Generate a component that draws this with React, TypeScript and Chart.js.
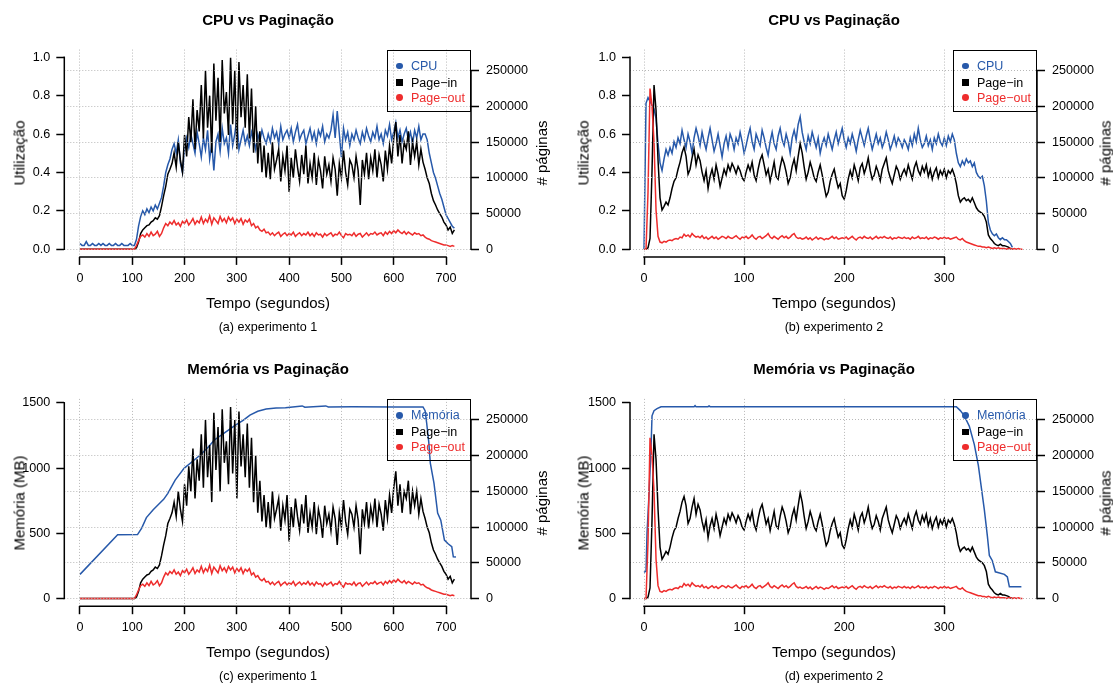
import React, { useEffect, useRef } from "react";
import { Chart, registerables } from "chart.js";

Chart.register(...registerables);

const FONT = '"Liberation Sans", Arial, Helvetica, sans-serif';
const BLUE = "#2759aa";
const RED = "#ee2c2c";
const BLACK = "#000000";
const GRID = "#b8b8b8";

// ---------------- Experiment 1 (one sample every 4 s, t = 0..716) ----------------
const exp1Step = 4;
const exp1CpuPct = [
  3, 2, 2, 4, 2, 2, 3, 2, 2, 3,
  2, 3, 2, 2, 3, 2, 2, 3, 2, 2,
  3, 2, 2, 2, 3, 2, 2, 5, 12, 17,
  20, 18, 21, 19, 22, 20, 23, 21, 24, 27,
  33, 40, 44, 47, 52, 55, 50, 57, 45, 40,
  52, 58, 53, 60, 55, 50, 61, 55, 48, 58,
  52, 62, 47, 55, 41, 56, 60, 51, 63, 55,
  58, 50, 65, 54, 60, 68, 52, 57, 62, 55,
  59, 54, 61, 57, 52, 60, 56, 62, 58, 55,
  60, 56, 63, 58, 61, 55, 64, 57, 60, 62,
  58, 63, 56, 61, 65, 57, 60, 62, 55, 59,
  63, 57, 61, 55, 62, 59, 64, 56, 60, 58,
  62, 70, 58, 72, 60, 48, 63, 57, 61, 54,
  60, 57, 62, 58, 55, 61, 57, 63, 59, 56,
  61, 58, 64, 57, 60, 55, 62, 59, 65, 57,
  61, 66, 58, 62, 56, 60, 63, 57, 61, 55,
  62, 58, 64, 57, 60, 60, 57, 50, 45, 40,
  37, 33, 29, 26, 22, 18, 16, 14, 12, 11,
];
const exp1PageInK = [
  0, 0, 0, 0, 0, 0, 0, 0, 0, 0,
  0, 0, 0, 0, 0, 0, 0, 0, 0, 0,
  0, 0, 0, 0, 0, 0, 0, 2, 10, 22,
  27, 30, 33, 34, 38, 40, 44, 42, 47, 60,
  75, 88, 105, 112, 120, 135, 115, 150, 125, 108,
  160, 130, 185, 150, 210, 140, 195, 165, 230, 155,
  250, 170, 215, 135, 260, 180, 240, 150, 265, 190,
  220, 160, 268, 175, 250, 140, 262, 185, 230, 170,
  245, 155, 225, 135, 200, 120, 165, 108, 145, 100,
  135, 98, 150, 112, 125, 140, 95, 130, 110, 145,
  80, 128, 100, 140, 115, 95, 132, 105, 145, 92,
  120, 100, 135, 90, 125, 110, 85, 130, 105, 118,
  95, 128, 112, 75, 120, 100, 138, 108, 90, 125,
  118, 100, 130, 110, 62, 125, 105, 135, 98, 128,
  110, 140, 100, 132, 118, 95, 138, 112, 145, 120,
  155, 178, 130, 160, 120, 150, 140, 165, 118, 150,
  130, 150, 118, 140, 122, 112, 100, 92, 78, 68,
  62, 55, 50, 45, 38, 34, 27, 31, 22, 27,
];
const exp1PageOutK = [
  0, 0, 0, 0, 0, 0, 0, 0, 0, 0,
  0, 0, 0, 0, 0, 0, 0, 0, 0, 0,
  0, 0, 0, 0, 0, 0, 0, 5, 12, 18,
  20, 17, 22, 18, 24, 19, 21, 25, 18, 22,
  30, 36, 33, 38, 35, 40, 34, 37, 32, 39,
  36, 41, 34, 38, 43, 35, 40, 37, 45, 36,
  42, 38, 47, 35, 44, 40, 36, 46, 39, 43,
  37, 45, 40, 44, 36, 42, 38, 43, 35, 41,
  38, 42, 33, 36, 30, 32, 27, 25, 28, 23,
  24, 20, 23, 19, 22, 24, 18, 21, 23, 19,
  22, 20, 24, 18, 21, 23, 19, 22, 20, 24,
  19, 22, 18, 23, 20, 21, 17, 22, 19, 21,
  23, 18, 21, 20, 24, 19, 16, 22, 20, 21,
  19, 23, 18, 21, 22, 17, 20, 23, 19, 22,
  21, 24, 20, 22, 23, 19, 24, 21, 25, 22,
  26, 23, 27, 24, 22, 25, 21, 24, 22, 20,
  23, 21, 22, 19, 20, 17, 15, 14, 12, 11,
  10, 9, 8, 7, 6, 6, 5, 4, 5, 4,
];
const exp1MemTime = [
  0, 72, 110, 118, 127, 140, 150, 160, 168, 182, 199, 215, 230, 245, 257, 275,
  298, 312, 325, 340, 356, 375, 393, 425, 430, 470, 475, 520, 600, 656, 660,
  663, 667, 670, 674, 677, 684, 690, 697, 704, 711, 714, 719,
];
const exp1MemMB = [
  185, 488, 490, 540, 620, 680, 720, 760, 806, 908, 998, 1050, 1100, 1160, 1215, 1265,
  1330, 1365, 1406, 1435, 1452, 1460, 1462, 1476, 1466, 1476, 1468, 1470, 1468, 1468, 1440,
  1345, 1200, 1038, 950, 885, 655, 600, 448, 420, 397, 320, 318,
];

// ---------------- Experiment 2 (one sample every 2 s, t = 0..378) ----------------
const exp2Step = 2;
const exp2CpuPct = [
  0, 76, 79, 77, 75, 73, 68, 55, 45, 41,
  47, 52, 49, 53, 50, 56, 53, 58, 55, 62,
  57, 53, 60, 56, 50, 58, 63, 59, 54, 61,
  56, 52, 58, 63, 57, 51, 55, 60, 54, 48,
  55, 59, 53, 60, 57, 52, 58, 55, 61, 56,
  50, 54, 59, 63, 56, 52, 60, 57, 54, 62,
  58, 53, 49, 56, 61, 55, 52, 59, 63, 57,
  54, 60, 56, 50, 58, 62, 57, 65, 69, 61,
  56, 52, 59, 55, 61, 57, 53, 58, 50, 55,
  58, 54, 60, 56, 52, 57, 61, 55, 59, 63,
  57, 53, 58, 55, 60, 56, 51, 57, 62, 58,
  54, 59, 63, 57, 52, 56, 60, 55, 58, 53,
  56, 61, 57, 52, 55, 59, 54, 58, 56, 53,
  57, 55, 52, 58, 54, 60, 56, 63, 57, 53,
  55, 59, 54, 57, 52, 58, 55, 60, 56, 54,
  58, 54, 59, 56, 60, 57, 50, 45, 43, 46,
  44, 47, 45, 46, 43, 45, 40, 38, 37, 38,
  33, 25, 14, 10, 8, 7, 8, 6, 5, 6,
  5, 5, 4, 3, 1, null, null, null, null, null,
];
const exp2PageInK = [
  0, 0, 2, 15, 110, 230, 195, 125, 72, 55,
  60, 66, 62, 72, 85, 95, 100, 112, 122, 135,
  143, 130, 105, 112, 128, 140, 118, 132, 124, 108,
  96, 110, 85, 102, 112, 98, 118, 105, 88, 100,
  112, 104, 118, 110, 120, 114, 106, 116, 110, 100,
  96, 108, 118, 110, 122, 104, 96, 112, 125, 132,
  118, 104, 112, 95, 108, 122, 102, 98, 115, 128,
  120, 108, 92, 100, 116, 126, 110, 130, 148, 135,
  115, 98, 108, 122, 112, 100, 95, 108, 118, 104,
  88, 74, 80, 95, 105, 112, 98, 86, 92, 75,
  70, 82, 98, 110, 100, 118, 108, 96, 114, 120,
  106, 115, 128, 110, 98, 104, 116, 108, 96, 112,
  120, 128, 110, 100, 92, 104, 116, 110, 98, 106,
  112, 104, 118, 108, 98, 114, 122, 110, 104, 116,
  108, 118, 102, 112, 98, 108, 114, 100, 110, 104,
  112, 100, 110, 106, 112, 104, 92, 75, 66, 70,
  72, 68, 70, 66, 72, 65, 58, 54, 52, 50,
  46, 38, 20, 15, 12, 8, 6, 5, 7, 5,
  5, 4, 3, 1, 0, null, null, null, null, null,
];
const exp2PageOutK = [
  0, 0, 80, 225, 200, 150, 55, 18, 10, 9,
  11, 10, 12, 13, 12, 14, 15, 14, 17, 16,
  21, 18, 20, 17, 22, 19, 17, 18, 16, 19,
  15, 17, 14, 16, 18, 15, 17, 14, 16, 18,
  17, 15, 18, 16, 15, 17, 19, 16, 14, 17,
  16, 18, 15, 17, 20, 16, 14, 17, 18, 15,
  17, 19, 22, 17, 15, 18, 16, 14, 17, 19,
  16, 18, 15, 17, 20, 22, 17, 15, 16, 14,
  15, 17, 14, 16, 13, 15, 17, 14, 16, 15,
  13, 15, 14, 16, 18, 15, 17, 14, 15, 16,
  15, 17, 14, 16, 18, 15, 13, 16, 17, 15,
  18, 16, 15, 17, 14, 16, 18, 15, 17, 16,
  18, 16, 15, 17, 14, 16, 15, 17, 16, 15,
  17, 15, 16, 14, 17, 15, 16, 18, 15, 16,
  15, 17, 14, 16, 15, 17, 16, 14, 16, 15,
  17, 15, 16, 14, 15, 16, 17, 14, 13, 15,
  12, 10, 9, 8, 7, 6, 5, 4, 4, 3,
  3, 2, 3, 2, 1, 2, 1, 2, 1, 1,
  1, 0, 1, 1, 0, 1, 0, 1, 0, 0,
];
const exp2MemTime = [
  0, 2, 3, 5, 7, 8, 10, 13, 17, 25, 50, 51, 52, 64, 65, 66, 100, 312, 316, 320,
  325, 330, 334, 337, 340, 343, 345, 348, 351, 360, 363, 365, 377,
];
const exp2MemMB = [
  200, 210, 500, 800, 1150, 1400, 1440, 1455, 1470, 1470, 1470, 1478, 1470, 1470, 1476, 1470, 1470, 1470, 1440, 1400,
  1320, 1180, 1020, 850, 680, 480, 330, 290, 205, 185, 165, 90, 90,
];

// ---------------- Axis ticks / labels ----------------
const exp1TimeTicks = [0, 100, 200, 300, 400, 500, 600, 700];
const exp2TimeTicks = [0, 100, 200, 300];
const cpuTicks = [0, 0.2, 0.4, 0.6, 0.8, 1.0];
const memTicks = [0, 500, 1000, 1500];
const pageTicks = [0, 50000, 100000, 150000, 200000, 250000];
const pagesMax = 268760;
const cpuMax = 1;
const memMax = 1471;

const exp1Time = exp1CpuPct.map((_, i) => i * exp1Step);
const exp2Time = exp2CpuPct.map((_, i) => i * exp2Step);

const toPts = (t: number[], v: (number | null)[], k: number) =>
  v.map((val, i) => ({ x: t[i], y: val == null ? null : val * k }));

const rAxes = {
  id: "rAxes",
  afterDraw(chart: any) {
    const ctx = chart.ctx;
    ctx.save();
    ctx.strokeStyle = "#000";
    ctx.lineWidth = 1.5;
    ctx.setLineDash([]);
    ["x", "y", "y1"].forEach((id) => {
      const s = chart.scales[id];
      if (!s || !s.ticks.length) return;
      const a = s.getPixelForValue(s.ticks[0].value);
      const b = s.getPixelForValue(s.ticks[s.ticks.length - 1].value);
      ctx.beginPath();
      if (id === "x") {
        ctx.moveTo(a - 0.75, s.top);
        ctx.lineTo(b + 0.75, s.top);
      } else {
        const xx = id === "y" ? s.right : s.left;
        ctx.moveTo(xx, a + 0.75);
        ctx.lineTo(xx, b - 0.75);
      }
      ctx.stroke();
    });
    ctx.restore();
  },
};

type Leg = { label: string; color: string; shape: "circle" | "square" };

interface PanelProps {
  cLeft: number;
  cTop: number;
  cW: number;
  cH: number;
  aLeft: number;
  aRight: number;
  aTop: number;
  aBottom: number;
  xMin: number;
  xMax: number;
  xTicks: number[];
  yMin: number;
  yMax: number;
  yTicks: number[];
  yFmt: (v: number) => string;
  datasets: any[];
  legend: Leg[];
  title: string;
  yTitle: string;
  caption: string;
  yTitleX: number;
  y1TitleX: number;
  titleY: number;
  xTitleY: number;
  captionY: number;
}

const tickFont = { family: FONT, size: 12.6 };

function Txt(props: {
  x: number;
  y: number;
  size: number;
  bold?: boolean;
  rot?: boolean;
  color?: string;
  children: any;
}) {
  return (
    <div
      style={{
        position: "absolute",
        left: Math.round(props.x),
        top: Math.round(props.y),
        width: 0,
        height: 0,
      }}
    >
      <div
        style={{
          position: "absolute",
          left: 0,
          top: 0,
          transform: `translate(-50%, -50%)${props.rot ? " rotate(-90deg)" : ""}`,
          fontFamily: FONT,
          fontSize: props.size,
          fontWeight: props.bold ? 700 : 400,
          whiteSpace: "nowrap",
          lineHeight: 1,
          color: props.color || "#000",
        }}
      >
        {props.children}
      </div>
    </div>
  );
}

function Panel(p: PanelProps) {
  const ref = useRef<HTMLCanvasElement>(null);
  useEffect(() => {
    if (!ref.current) return;
    const yWidth = p.aLeft - p.cLeft;
    const y1Width = p.cLeft + p.cW - p.aRight;
    const padTop = p.aTop - p.cTop;
    const xHeight = p.cTop + p.cH - p.aBottom;
    const chart = new Chart(ref.current, {
      type: "line",
      data: { datasets: p.datasets },
      options: {
        responsive: false,
        animation: false,
        devicePixelRatio: 1,
        layout: { padding: { left: 0, right: 0, top: padTop, bottom: 0 } },
        plugins: {
          legend: { display: false },
          tooltip: { enabled: false },
          title: { display: false },
        },
        elements: {
          point: { radius: 0 },
          line: { borderWidth: 1.5, tension: 0 },
        },
        scales: {
          x: {
            type: "linear",
            min: p.xMin,
            max: p.xMax,
            afterBuildTicks: (s: any) => {
              s.ticks = p.xTicks.map((v) => ({ value: v }));
            },
            afterFit: (s: any) => {
              s.height = xHeight;
            },
            grid: {
              display: true,
              drawOnChartArea: true,
              color: GRID,
              lineWidth: 1,
              z: 1,
              tickLength: 8,
              tickColor: "#000",
              tickWidth: 1.5,
              tickBorderDash: [],
            },
            border: { display: false, dash: [1, 2] },
            ticks: {
              font: tickFont,
              color: "#000",
              padding: 6,
              maxRotation: 0,
              autoSkip: false,
              callback: (v: any) => String(v),
            },
          },
          y: {
            type: "linear",
            position: "left",
            min: p.yMin,
            max: p.yMax,
            afterBuildTicks: (s: any) => {
              s.ticks = p.yTicks.map((v) => ({ value: v }));
            },
            afterFit: (s: any) => {
              s.width = yWidth;
            },
            grid: {
              display: true,
              drawOnChartArea: false,
              tickLength: 8,
              tickColor: "#000",
              tickWidth: 1.5,
              tickBorderDash: [],
            },
            border: { display: false },
            ticks: {
              font: tickFont,
              color: "#000",
              padding: 6,
              autoSkip: false,
              callback: (v: any) => p.yFmt(Number(v)),
            },
          },
          y1: {
            type: "linear",
            position: "right",
            min: -0.04 * pagesMax,
            max: 1.04 * pagesMax,
            afterBuildTicks: (s: any) => {
              s.ticks = pageTicks.map((v) => ({ value: v }));
            },
            afterFit: (s: any) => {
              s.width = y1Width;
            },
            grid: {
              display: true,
              drawOnChartArea: true,
              color: GRID,
              lineWidth: 1,
              z: 1,
              tickLength: 8,
              tickColor: "#000",
              tickWidth: 1.5,
              tickBorderDash: [],
            },
            border: { display: false, dash: [1, 2] },
            ticks: {
              font: tickFont,
              color: "#000",
              padding: 7,
              autoSkip: false,
              callback: (v: any) => String(v),
            },
          },
        },
      } as any,
      plugins: [rAxes],
    });
    return () => chart.destroy();
  }, []);

  const cx = (p.aLeft + p.aRight) / 2;
  const midY = p.aTop + (p.aBottom - p.aTop) / 2;
  const legW = 84;
  const legH = 62;
  const rowY = [15.4, 32.1, 47.1];

  return (
    <>
      <canvas
        ref={ref}
        width={p.cW}
        height={p.cH}
        style={{ position: "absolute", left: p.cLeft, top: p.cTop, width: p.cW, height: p.cH }}
      />
      <Txt x={cx} y={p.titleY} size={15} bold>
        {p.title}
      </Txt>
      <Txt x={cx} y={p.xTitleY} size={15}>
        Tempo (segundos)
      </Txt>
      <Txt x={cx} y={p.captionY} size={12.6}>
        {p.caption}
      </Txt>
      <Txt x={p.yTitleX} y={midY} size={15} rot>
        {p.yTitle}
      </Txt>
      <Txt x={p.y1TitleX} y={midY} size={15} rot>
        # páginas
      </Txt>
      <div
        style={{
          position: "absolute",
          left: p.aRight - legW,
          top: p.aTop,
          width: legW,
          height: legH,
          border: "1.5px solid #000",
          boxSizing: "border-box",
        }}
      >
        {p.legend.map((l, i) => (
          <React.Fragment key={l.label}>
            <div
              style={{
                position: "absolute",
                left: 11.3 - 3.4,
                top: rowY[i] - 3.4,
                width: 6.8,
                height: 6.8,
                background: l.color,
                borderRadius: l.shape === "circle" ? "50%" : 0,
              }}
            />
            <div
              style={{
                position: "absolute",
                left: 23,
                top: rowY[i],
                transform: "translateY(-50%)",
                fontFamily: FONT,
                fontSize: 12.5,
                lineHeight: 1,
                whiteSpace: "nowrap",
                color: l.color,
              }}
            >
              {l.label}
            </div>
          </React.Fragment>
        ))}
      </div>
    </>
  );
}

const line = (data: any[], color: string, axis: string, order: number) => ({
  data,
  borderColor: color,
  backgroundColor: color,
  yAxisID: axis,
  order,
  fill: false,
  spanGaps: false,
  pointRadius: 0,
  borderWidth: 1.5,
});

export default function App() {
  const top = { cTop: 0, cH: 342, aTop: 49.6, aBottom: 256.9, titleY: 19, xTitleY: 301.5, captionY: 327.3 };
  const bot = { cTop: 342, cH: 342, aTop: 398.9, aBottom: 606.2, titleY: 368.3, xTitleY: 650.5, captionY: 676 };
  const left = { cLeft: 0, cW: 556, aLeft: 64.3, aRight: 471, xMin: -30, xMax: 747.8, xTicks: exp1TimeTicks, y1TitleX: 541 };
  const right = { cLeft: 556, cW: 557, aLeft: 630, aRight: 1037, xMin: -14, xMax: 392.6, xTicks: exp2TimeTicks, y1TitleX: 1105 };

  const cpuAxis = { yMin: -0.04 * cpuMax, yMax: 1.04 * cpuMax, yTicks: cpuTicks, yFmt: (v: number) => v.toFixed(1), yTitle: "Utilização" };
  const memAxis = { yMin: -0.04 * memMax, yMax: 1.04 * memMax, yTicks: memTicks, yFmt: (v: number) => String(v), yTitle: "Memória (MB)" };

  const pin1 = toPts(exp1Time, exp1PageInK, 1000);
  const pout1 = toPts(exp1Time, exp1PageOutK, 1000);
  const pin2 = toPts(exp2Time, exp2PageInK, 1000);
  const pout2 = toPts(exp2Time, exp2PageOutK, 1000);

  const legCpu: Leg[] = [
    { label: "CPU", color: BLUE, shape: "circle" },
    { label: "Page−in", color: BLACK, shape: "square" },
    { label: "Page−out", color: RED, shape: "circle" },
  ];
  const legMem: Leg[] = [
    { label: "Memória", color: BLUE, shape: "circle" },
    { label: "Page−in", color: BLACK, shape: "square" },
    { label: "Page−out", color: RED, shape: "circle" },
  ];

  return (
    <div style={{ position: "absolute", left: 0, top: 0, width: 1113, height: 684, background: "#fff", overflow: "hidden" }}>
      <Panel
        {...top}
        {...left}
        {...cpuAxis}
        yTitleX={18.6}
        title="CPU vs Paginação"
        caption="(a) experimento 1"
        legend={legCpu}
        datasets={[
          line(pout1, RED, "y1", 0),
          line(pin1, BLACK, "y1", 1),
          line(toPts(exp1Time, exp1CpuPct, 0.01), BLUE, "y", 2),
        ]}
      />
      <Panel
        {...top}
        {...right}
        {...cpuAxis}
        yTitleX={582.5}
        title="CPU vs Paginação"
        caption="(b) experimento 2"
        legend={legCpu}
        datasets={[
          line(pout2, RED, "y1", 0),
          line(pin2, BLACK, "y1", 1),
          line(toPts(exp2Time, exp2CpuPct, 0.01), BLUE, "y", 2),
        ]}
      />
      <Panel
        {...bot}
        {...left}
        {...memAxis}
        yTitleX={18.6}
        title="Memória vs Paginação"
        caption="(c) experimento 1"
        legend={legMem}
        datasets={[
          line(pout1, RED, "y1", 0),
          line(pin1, BLACK, "y1", 1),
          line(toPts(exp1MemTime, exp1MemMB, 1), BLUE, "y", 2),
        ]}
      />
      <Panel
        {...bot}
        {...right}
        {...memAxis}
        yTitleX={583}
        title="Memória vs Paginação"
        caption="(d) experimento 2"
        legend={legMem}
        datasets={[
          line(pout2, RED, "y1", 0),
          line(pin2, BLACK, "y1", 1),
          line(toPts(exp2MemTime, exp2MemMB, 1), BLUE, "y", 2),
        ]}
      />
    </div>
  );
}
